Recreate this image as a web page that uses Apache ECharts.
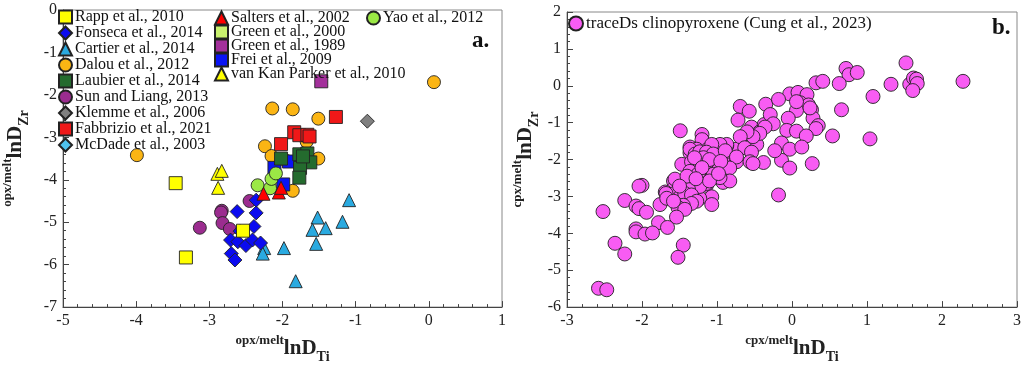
<!DOCTYPE html>
<html>
<head>
<meta charset="utf-8">
<script src="https://cdn.jsdelivr.net/npm/echarts@6/dist/echarts.min.js"></script>
<style>
  html, body { margin: 0; padding: 0; background: #fff; }
  #chart { width: 1024px; height: 369px; }
</style>
</head>
<body>
<div id="chart"></div>
<script>
// panel a: opx/melt lnD_Zr vs lnD_Ti, [lnDTi, lnDZr]
const rapp2010 = [[-3.46, -4.08], [-3.32, -5.83], [-2.54, -5.20]]
const fonseca2014 = [
  [-2.62, -4.75], [-2.36, -4.78], [-2.39, -5.10], [-2.71, -5.42], [-2.61, -5.46],
  [-2.50, -5.55], [-2.41, -5.42], [-2.30, -5.49], [-2.70, -5.74], [-2.65, -5.89],
  [-2.36, -4.48], [-2.58, -5.21]
]
const cartier2014 = [
  [-1.09, -4.48], [-1.52, -4.89], [-1.18, -4.99], [-1.59, -5.18], [-1.41, -5.14],
  [-1.54, -5.51], [-1.98, -5.61], [-2.25, -5.61], [-2.27, -5.74], [-1.82, -6.39]
]
const dalou2012 = [
  [-3.99, -3.42], [-2.14, -2.32], [-1.86, -2.34], [-1.51, -2.56], [-2.24, -3.21],
  [-2.15, -3.44], [-1.51, -3.50], [-1.86, -4.26], [-1.67, -3.10], [-1.95, -3.55],
  [0.07, -1.70]
]
const laubier2014 = [
  [-2.02, -3.50], [-1.77, -3.40], [-1.66, -3.38], [-1.62, -3.59], [-1.76, -3.72],
  [-1.77, -3.95], [-1.72, -3.45]
]
const sunLiang2013 = [[-2.45, -4.50], [-2.83, -4.73], [-2.84, -4.77], [-2.82, -5.02], [-2.72, -5.16], [-3.13, -5.13]]
const klemme2006 = [[-0.84, -2.62]]
const fabbrizio2021 = [[-1.84, -2.88], [-1.77, -2.95], [-1.66, -2.94], [-1.63, -2.98], [-2.02, -3.16], [-1.27, -2.52]]
const mcdade2003 = [[-1.95, -3.54]]
const salters2002 = [[-2.26, -4.33], [-2.05, -4.30], [-2.02, -4.19]]
const green2000 = [[-1.72, -3.48]]
const green1989 = [[-1.47, -1.68]]
const frei2009 = [[-2.11, -3.72], [-1.99, -4.11], [-1.91, -3.57], [-1.73, -3.53]]
const vanKanParker2010 = [[-2.89, -3.86], [-2.83, -3.79], [-2.88, -4.19]]
const yao2012 = [[-2.34, -4.13], [-2.17, -4.20], [-2.15, -3.98], [-2.09, -3.85]]

// panel b: cpx/melt, traceDs clinopyroxene
const traceDsCpx = [
  [1.52, 0.62], [0.72, 0.47], [0.76, 0.30], [0.87, 0.36], [0.32, 0.08], [0.41, 0.12],
  [0.63, 0.06], [1.32, 0.04], [1.57, 0.04], [1.62, 0.21], [1.66, 0.18], [1.67, 0.06],
  [1.61, -0.13], [2.28, 0.12], [1.08, -0.29], [0.66, -0.65], [1.04, -1.44], [0.54, -1.36],
  [-0.03, -0.22], [0.08, -0.18], [0.20, -0.24], [0.11, -0.46], [0.22, -0.52], [0.26, -0.65],
  [0.06, -0.67], [-0.05, -0.88], [0.28, -0.88], [0.35, -1.08], [0.32, -1.16], [-0.07, -1.21],
  [0.06, -1.23], [0.19, -1.36], [-0.14, -1.55], [-0.03, -1.72], [0.13, -1.66], [-0.14, -2.02],
  [-0.03, -2.23], [0.27, -2.11], [0.06, -0.43], [0.24, -0.60],
  [-1.49, -1.22], [-1.20, -1.32], [-1.20, -1.46], [-1.36, -1.66], [-1.47, -2.13], [-0.69, -0.56],
  [-0.57, -0.69], [-0.72, -0.93], [-0.56, -1.21], [-0.54, -1.12], [-0.67, -1.38], [-0.60, -1.29],
  [-0.47, -1.59], [-0.43, -1.25], [-0.37, -1.05], [-0.35, -0.50], [-0.29, -0.78], [-0.25, -1.03],
  [-0.18, -0.37], [-0.38, -2.08], [-0.54, -2.08], [-0.74, -1.72], [-1.00, -1.63], [-0.87, -1.63],
  [-1.12, -1.72], [-1.00, -1.91], [-0.87, -1.89], [-1.27, -1.72], [-1.36, -1.82], [-1.07, -1.85],
  [-1.34, -2.06], [-1.23, -2.06], [-1.14, -2.15], [-0.85, -2.15], [-0.74, -2.06],
  [-0.36, -1.12], [-0.43, -1.29], [-0.52, -1.38], [-0.60, -1.25], [-0.69, -1.38], [-0.63, -1.68],
  [-0.87, -1.59], [-0.96, -1.59], [-1.07, -1.59], [-1.36, -1.72], [-1.29, -1.85], [-1.23, -1.79],
  [-1.14, -1.80], [-1.05, -1.85], [-0.89, -1.76], [-0.74, -1.93], [-0.54, -1.80], [-0.56, -2.06],
  [-0.23, -1.76], [-0.18, -2.96], [-1.25, -2.04], [-1.36, -2.32], [-1.16, -2.32], [-0.98, -2.28],
  [-0.83, -2.23], [-1.07, -2.49], [-0.92, -2.62], [-0.83, -2.58], [-1.14, -2.70], [-1.25, -2.70],
  [-1.40, -2.66], [-1.58, -2.58], [-1.45, -2.83], [-1.58, -2.79], [-1.69, -2.88], [-1.54, -2.88],
  [-1.32, -2.83], [-1.07, -3.01], [-1.36, -3.05], [-1.23, -3.05], [-1.49, -3.17], [-1.76, -3.22],
  [-2.00, -2.70], [-1.07, -3.22],
  [-0.52, -2.11], [-1.25, -2.39], [-1.05, -2.40], [-0.96, -2.49], [-1.14, -2.65], [-1.32, -2.68],
  [-1.23, -2.73], [-1.38, -2.81], [-1.56, -2.53], [-2.04, -2.72], [-1.68, -2.92], [-1.49, -3.01],
  [-1.43, -2.92], [-1.34, -2.96], [-1.27, -3.13], [-1.34, -3.19], [-1.45, -3.24], [-1.52, -3.30],
  [-1.43, -3.35], [-1.67, -3.05], [-1.58, -3.13], [-2.23, -3.11], [-2.52, -3.41], [-2.08, -3.26],
  [-2.04, -3.33], [-1.94, -3.43], [-1.54, -3.56], [-1.78, -3.71], [-1.66, -3.84], [-2.08, -3.88],
  [-2.08, -3.96], [-1.96, -4.02], [-1.86, -3.99], [-2.36, -4.27], [-2.23, -4.56], [-1.45, -4.32],
  [-1.52, -4.65], [-2.58, -5.49], [-2.47, -5.53],
  [-1.18, -1.95], [-1.10, -2.00], [-1.30, -1.95], [-0.95, -2.05], [-1.20, -2.22], [-1.40, -2.45],
  [-1.10, -2.58], [-0.98, -2.38], [-1.50, -2.72], [-1.28, -2.52]
]

const leftCol = ['Rapp et al., 2010', 'Fonseca et al., 2014', 'Cartier et al., 2014', 'Dalou et al., 2012',
  'Laubier et al., 2014', 'Sun and Liang, 2013', 'Klemme et al., 2006', 'Fabbrizio et al., 2021', 'McDade et al., 2003']
const midCol = ['Salters et al., 2002', 'Green et al., 2000', 'Green et al., 1989', 'Frei et al., 2009', 'van Kan Parker et al., 2010']
const rightCol = ['Yao et al., 2012']

const FONT = 'Liberation Serif'
const chart = echarts.init(document.getElementById('chart'))

function sc (name, data, symbol, color, idx) {
  return {
    name, type: 'scatter', data, symbol,
    symbolSize: symbol === 'diamond' ? 14 : 13,
    xAxisIndex: idx || 0, yAxisIndex: idx || 0,
    itemStyle: { color, borderColor: '#222', borderWidth: 0.9, opacity: 1 },
    emphasis: { disabled: true }
  }
}

function axisBase (min, max) {
  return {
    min, max, interval: 1,
    axisLine: { onZero: false, lineStyle: { color: '#444', width: 1 } },
    axisTick: { inside: true, length: 6, lineStyle: { color: '#444' } },
    minorTick: { show: true, splitNumber: 5, length: 3, lineStyle: { color: '#444' } },
    splitLine: { show: false },
    axisLabel: { fontFamily: FONT, fontSize: 16, color: '#222', margin: 6 },
    nameLocation: 'middle'
  }
}

function richName (sup, sub) {
  return {
    name: '{a|' + sup + '}{b|lnD}{c|' + sub + '}',
    nameTextStyle: {
      rich: {
        a: { fontFamily: FONT, fontWeight: 'bold', fontSize: 13, color: '#222', verticalAlign: 'top', lineHeight: 14 },
        b: { fontFamily: FONT, fontWeight: 'bold', fontSize: 21, color: '#222', lineHeight: 30 },
        c: { fontFamily: FONT, fontWeight: 'bold', fontSize: 14, color: '#222', verticalAlign: 'bottom', lineHeight: 14 }
      }
    }
  }
}

const legendText = { fontFamily: FONT, fontSize: 16, lineHeight: 16, color: '#111', padding: [0, 0, 0, -2] }

const opts = {
  animation: false,
  backgroundColor: '#fff',
  grid: [
    { left: 55, top: 10, width: 447, height: 312, show: true, borderColor: '#888', borderWidth: 1 },
    { left: 567, top: 12, width: 451, height: 311, show: true, borderColor: '#888', borderWidth: 1 }
  ],
  xAxis: [
    Object.assign(axisBase(-5, 1), { gridIndex: 0, nameGap: 24 }, richName('opx/melt', 'Ti')),
    Object.assign(axisBase(-3, 3), { gridIndex: 1, nameGap: 24 }, richName('cpx/melt', 'Ti'))
  ],
  yAxis: [
    Object.assign(axisBase(-7, 0), { gridIndex: 0, nameGap: 32 }, richName('opx/melt', 'Zr')),
    Object.assign(axisBase(-6, 2), { gridIndex: 1, nameGap: 26 }, richName('cpx/melt', 'Zr'))
  ],
  legend: [
    { data: leftCol, orient: 'vertical', left: 53, top: 4, itemWidth: 13, itemHeight: 13, itemGap: 0, textStyle: legendText, selectedMode: false },
    { data: midCol, orient: 'vertical', left: 209, top: 5, itemWidth: 13, itemHeight: 13, itemGap: -2, textStyle: legendText, selectedMode: false },
    { data: rightCol, orient: 'vertical', left: 361, top: 5, itemWidth: 13, itemHeight: 13, itemGap: 0, textStyle: legendText, selectedMode: false },
    { data: ['traceDs clinopyroxene (Cung et al., 2023)'], orient: 'vertical', left: 563, top: 10, itemWidth: 14, itemHeight: 14, textStyle: Object.assign({}, legendText, { fontSize: 17, lineHeight: 17 }), selectedMode: false }
  ],
  graphic: [
    { type: 'text', left: 472, top: 30, style: { text: 'a.', font: 'bold 23px "Liberation Serif"', fill: '#111' } },
    { type: 'text', left: 992, top: 17, style: { text: 'b.', font: 'bold 23px "Liberation Serif"', fill: '#111' } }
  ],
  series: [
    sc('Green et al., 2000', green2000, 'rect', '#c9f26e'),
    sc('Sun and Liang, 2013', sunLiang2013, 'circle', '#9b2c8f'),
    sc('Cartier et al., 2014', cartier2014, 'triangle', '#2aaae0'),
    sc('Fonseca et al., 2014', fonseca2014, 'diamond', '#0b0bf0'),
    sc('Rapp et al., 2010', rapp2010, 'rect', '#ffff00'),
    sc('van Kan Parker et al., 2010', vanKanParker2010, 'triangle', '#ffff00'),
    sc('Dalou et al., 2012', dalou2012, 'circle', '#fbb514'),
    sc('McDade et al., 2003', mcdade2003, 'diamond', '#4fc3ee'),
    sc('Klemme et al., 2006', klemme2006, 'diamond', '#808080'),
    sc('Green et al., 1989', green1989, 'rect', '#a3309b'),
    sc('Frei et al., 2009', frei2009, 'rect', '#0a14f5'),
    sc('Laubier et al., 2014', laubier2014, 'rect', '#246b2e'),
    sc('Fabbrizio et al., 2021', fabbrizio2021, 'rect', '#f01818'),
    sc('Yao et al., 2012', yao2012, 'circle', '#9be845'),
    sc('Salters et al., 2002', salters2002, 'triangle', '#ff0000'),
    Object.assign(sc('traceDs clinopyroxene (Cung et al., 2023)', traceDsCpx, 'circle', '#f85cf3', 1), { symbolSize: 14 })
  ]
}

chart.setOption(opts)
</script>
</body>
</html>
